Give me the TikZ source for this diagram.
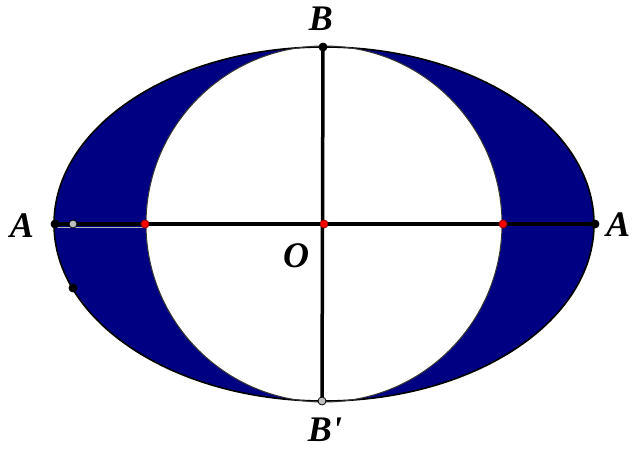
\documentclass[tikz,border=0pt]{standalone}
\usepackage{fontspec}
\setmainfont{Liberation Serif}
\begin{document}
\begin{tikzpicture}[x=1pt,y=-1pt,
  lbl/.style={font=\fontsize{36}{40}\selectfont\bfseries\itshape, inner sep=0pt, anchor=base},
  dot/.style={circle, inner sep=0pt, minimum size=8pt, draw=black, line width=0.8pt},
]
\definecolor{navyfill}{RGB}{0,0,130}
\useasboundingbox (0,0) rectangle (637,450);
% filled ring
\fill[navyfill] (324,224) ellipse [x radius=270, y radius=177];
\fill[white] (324,224) circle [radius=178];
\draw[line width=1.6pt] (324,224) ellipse [x radius=270, y radius=177];
\draw[line width=1pt, black!80] (324,224) circle [radius=178];
% points
\coordinate (A1) at (55,224);
\coordinate (A2) at (595,224);
\coordinate (B1) at (323,47);
\coordinate (B2) at (322,401);
\coordinate (O) at (324,224);
\coordinate (C1) at (145,224);
\coordinate (C2) at (503,224);
\coordinate (G1) at (55,227.5);
\coordinate (G2) at (145,227.5);
% gray line
\draw[line width=1.6pt, black!30] (G1) -- (G2);
% axes
\draw[line width=4.5pt] (A1) -- (A2);
\draw[line width=3.5pt] (B1) -- (B2);
% dots
\node[dot, fill=black] at (A1) {};
\node[dot, fill=black] at (A2) {};
\node[dot, fill=black] at (B1) {};
\node[dot, fill=black!25] at (B2) {};
\node[dot, fill=black!25] at (73,224) {};
\node[dot, fill=black] at (73,288) {};
\node[dot, fill=red, draw=red!60!black] at (O) {};
\node[dot, fill=red, draw=red!60!black] at (C1) {};
\node[dot, fill=red, draw=red!60!black] at (C2) {};
% labels
\node[lbl] (LA1) at (22,237) {A};
\node[lbl] (LA2) at (618,236) {A};
\node[lbl] (LB1) at (321,30) {B};
\node[lbl] (LB2) at (325,441) {B\textquotesingle};
\node[lbl] (LO) at (296,267) {O};
\end{tikzpicture}
\end{document}
